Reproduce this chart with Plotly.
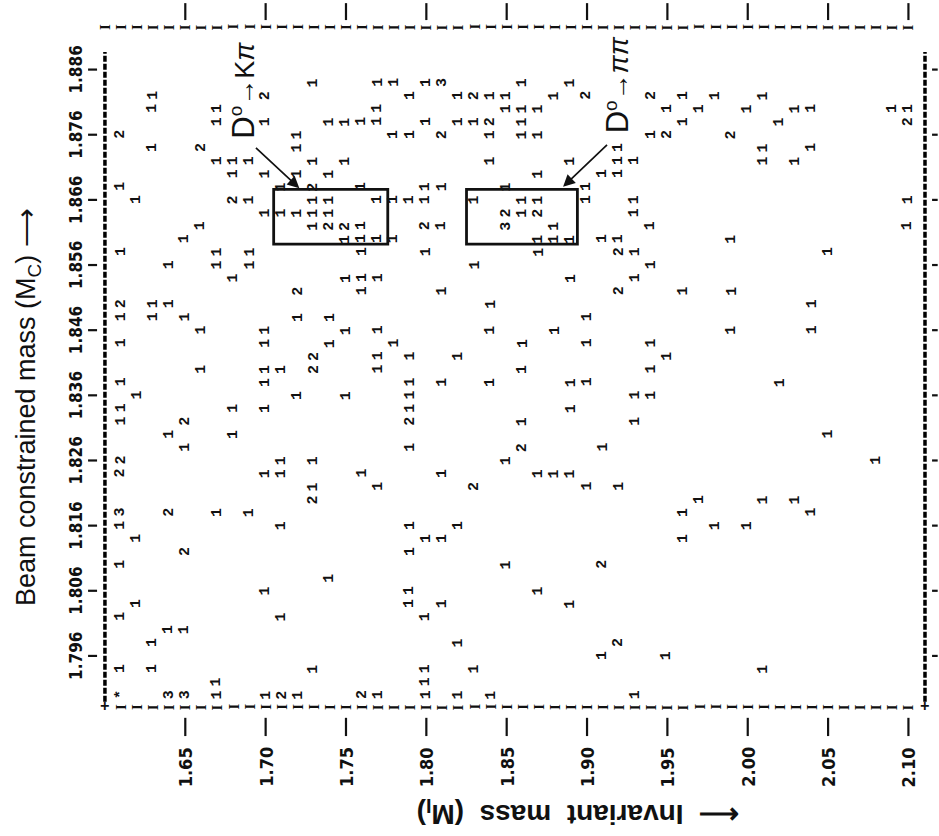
import plotly.graph_objects as go

# ---------------- data ----------------
# invariant-mass bins (GeV), one per printed column
m_inv_bins = [1.61, 1.62, 1.63, 1.64, 1.65, 1.66, 1.67, 1.68, 1.69, 1.70,
              1.71, 1.72, 1.73, 1.74, 1.75, 1.76, 1.77, 1.78, 1.79, 1.80,
              1.81, 1.82, 1.83, 1.84, 1.85, 1.86, 1.87, 1.88, 1.89, 1.90,
              1.91, 1.92, 1.93, 1.94, 1.95, 1.96, 1.97, 1.98, 1.99, 2.00,
              2.01, 2.02, 2.03, 2.04, 2.05, 2.06, 2.07, 2.08, 2.09, 2.10]

# beam-constrained-mass bins (GeV), top row first
m_bc_bins = [1.884, 1.882, 1.880, 1.878, 1.876, 1.874, 1.872, 1.870,
             1.868, 1.866, 1.864, 1.862, 1.860, 1.858, 1.856, 1.854,
             1.852, 1.850, 1.848, 1.846, 1.844, 1.842, 1.840, 1.838,
             1.836, 1.834, 1.832, 1.830, 1.828, 1.826, 1.824, 1.822,
             1.820, 1.818, 1.816, 1.814, 1.812, 1.810, 1.808, 1.806,
             1.804, 1.802, 1.800, 1.798, 1.796, 1.794, 1.792, 1.790]

# printed event counts: one string per M_C row, one character per M_I bin
# ('.' = empty bin, '*' = overflow), written in groups of ten columns
count_rows = [
    ".......... ..1...11.1 3....1..1. .......... ..........",
    "..1......2 ........1. .1211..1.2 ...2.1.1.. 1.........",
    "..1...1... ......1... ....111... ....1.1..1 ..11....11",
    "......1..1 ...1111..1 .112.1.... .....1.... .1.......2",
    "2......... .1.....11. 2..1.11... ...12...2. ..........",
    "..1..2.... .1........ .......... .1........ 1..1......",
    "......111. ..1.1..... ...1....1. .11....... 1.1.......",
    ".......1.1 .1.1...... ......1... 11........ ..........",
    "1......... 1.2..1...1 1...1....1 .......... ..........",
    ".1.....21. ..11..1111 ..1..11..1 ..1....... .........1",
    ".........1 1111...... ....212... ..1....... ..........",
    ".....1.... ..1221...2 1...3..1.. ...1...... .........1",
    "....1..... ....1111.. ......111. 11......1. ..........",
    "1.....1.1. .....1...1 ......1... .21....... ....1.....",
    "...1..1.1. .......... ..1....... ...1...... ..........",
    ".......1.. ....111... ........1. ..1....... ..........",
    ".......... .2...1.... 1......... .2...1..1. ..........",
    "2.11...... .......... ...1...... .......... ...1......",
    "1.1.1..... .1.1...... .........1 .......... ..........",
    ".....1...1 ....1.1... ...1...1.. ........1. ...1......",
    "1........1 ...1...1.. .....1...1 ...1...... ..........",
    ".......... ..2...1.1. .1........ ....1..... ..........",
    ".....1...1 1.2...1... .....1.... ...1...... ..........",
    "1........1 ........1. 1..1....11 .......... .1........",
    ".1........ .1..1...1. .......... ..11...... ..........",
    "1......1.1 ........1. ........1. .......... ..........",
    "1...2..... ........2. .....1.... ..1....... ..........",
    "...1...1.. .......... .......... .......... ....1.....",
    "....1..... ........1. .....2.... 1......... ..........",
    "2......... 1.1....... ....1..... .......... .......1..",
    "2........1 1....1.... 1.....111. .......... ..........",
    ".......... ..1...1... ..2......1 .1........ ..........",
    ".......... ..2....... .......... ......1... 1.1.......",
    "3..2..1.1. .......... .......... .....1.... ...1......",
    "1......... 1.......1. .1........ .......1.1 ..........",
    ".1........ .........1 1......... .....1.... ..........",
    "....2..... ........1. .......... .......... ..........",
    "1......... .......... ....1..... 2......... ..........",
    ".......... ...1...... .......... .......... ..........",
    ".........1 ........1. ......1... .......... ..........",
    ".1........ ........1. 1.......1. .......... ..........",
    "1......... 1........1 .......... .......... ..........",
    "...11..... .......... .......... .......... ..........",
    "..1....... .......... .1........ .2........ ..........",
    ".......... .......... .......... 1...1..... ..........",
    "1.1....... ..1......1 ..1....... .......... 1.........",
    "......1... .........1 .......... .......... ..........",
    "*..33.1..1 21...21..1 .1.1...... ..1....... ..........",
]

# axis tick labels
m_bc_ticks = [1.796, 1.806, 1.816, 1.826, 1.836, 1.846, 1.856, 1.866, 1.876, 1.886]
m_bc_tick_text = ["1.796", "1.806", "1.816", "1.826", "1.836",
                  "1.846", "1.856", "1.866", "1.876", "1.886"]
m_inv_ticks = [1.65, 1.70, 1.75, 1.80, 1.85, 1.90, 1.95, 2.00, 2.05, 2.10]
m_inv_tick_text = ["1.65", "1.70", "1.75", "1.80", "1.85",
                   "1.90", "1.95", "2.00", "2.05", "2.10"]

# signal windows (M_I low, M_I high, M_C low, M_C high)
kpi_window = [1.705, 1.776, 1.8592, 1.8676]
pipi_window = [1.825, 1.894, 1.8592, 1.8676]

# ---------------- layout geometry (data units) ----------------
X_RANGE = [1.53470, 2.11902]
Y_RANGE = [1.76836, 1.89668]
FRAME_L, FRAME_R = 1.6000, 2.1103
FRAME_B, FRAME_T = 1.78816, 1.89253
SIDE_TOP = 1.8887

INK = "#111111"
digit_font = dict(family="Liberation Mono, DejaVu Sans Mono, monospace",
                  size=15, color=INK, weight="bold")
mark_font = dict(family="Liberation Serif, DejaVu Serif, serif",
                 size=15, color=INK, weight="bold")
label_font = dict(family="Liberation Sans Narrow, DejaVu Sans Condensed, Liberation Sans, sans-serif",
                  size=17, color=INK, weight="bold")

annotations = []
shapes = []

# counts, one rotated numeral per occupied bin
for mc, row in zip(m_bc_bins, count_rows):
    cells = row.replace(" ", "")
    for mi, ch in zip(m_inv_bins, cells):
        if ch != ".":
            annotations.append(dict(x=mi, y=mc, xref="x", yref="y", text=ch,
                                    textangle=-90, showarrow=False,
                                    font=digit_font))

# printed column markers along the top and bottom edges
step = m_inv_bins[1] - m_inv_bins[0]
for mi in [m_inv_bins[0] - step] + m_inv_bins:
    annotations.append(dict(x=mi, y=FRAME_T, xref="x", yref="y", text="I",
                            textangle=-90, showarrow=False, font=mark_font))
for mi in m_inv_bins:
    annotations.append(dict(x=mi, y=FRAME_B, xref="x", yref="y", text="I",
                            textangle=-90, showarrow=False, font=mark_font))
for xc in (FRAME_L, FRAME_R):
    annotations.append(dict(x=xc, y=FRAME_B, xref="x", yref="y", text="+",
                            showarrow=False,
                            font=dict(family="Liberation Mono", size=16,
                                      color=INK, weight="bold")))

# dashed side borders
for xc in (FRAME_L, FRAME_R):
    shapes.append(dict(type="line", xref="x", yref="y", x0=xc, x1=xc,
                       y0=FRAME_B + 0.0008, y1=SIDE_TOP,
                       line=dict(color="#000000", width=3.5, dash="6px,2px")))

# major ticks: M_C on the left (with labels) and mirrored on the right
for v, t in zip(m_bc_ticks, m_bc_tick_text):
    shapes.append(dict(type="line", xref="x", yref="y", x0=1.5895, x1=1.5951,
                       y0=v, y1=v, line=dict(color=INK, width=2.2)))
    shapes.append(dict(type="line", xref="x", yref="y", x0=2.1147, x1=2.1182,
                       y0=v, y1=v, line=dict(color=INK, width=2.2)))
    annotations.append(dict(x=1.5820, y=v, xref="x", yref="y", text=t,
                            textangle=-90, showarrow=False, font=label_font))

# major ticks: M_I along the top and the bottom (with labels)
for v, t in zip(m_inv_ticks, m_inv_tick_text):
    shapes.append(dict(type="line", xref="x", yref="y", x0=v, x1=v,
                       y0=1.8936, y1=1.8962, line=dict(color=INK, width=2.2)))
    shapes.append(dict(type="line", xref="x", yref="y", x0=v, x1=v,
                       y0=1.7837, y1=1.7865, line=dict(color=INK, width=2.2)))
    annotations.append(dict(x=v, y=1.77895, xref="x", yref="y", text=t,
                            textangle=-90, showarrow=False,
                            font=dict(label_font, size=18)))

# signal windows
for x0, x1, y0, y1 in (kpi_window, pipi_window):
    shapes.append(dict(type="rect", xref="x", yref="y", x0=x0, x1=x1,
                       y0=y0, y1=y1, line=dict(color=INK, width=2.8)))

# decay-mode labels with arrows pointing at the windows
title_family = "Liberation Sans, Arial, sans-serif"
annotations.append(dict(x=1.6859, y=1.8829, xref="x", yref="y",
                        text="<span style='font-size:31px'>D</span><sup>o</sup>→K<i>π</i>",
                        textangle=-90, showarrow=False,
                        font=dict(family=title_family, size=27, color=INK)))
annotations.append(dict(x=1.9187, y=1.8836, xref="x", yref="y",
                        text="<span style='font-size:31px'>D</span><sup>o</sup>→<i>ππ</i>",
                        textangle=-90, showarrow=False,
                        font=dict(family=title_family, size=27, color=INK)))
annotations.append(dict(x=1.7210, y=1.8678, ax=1.6921, ay=1.8744,
                        xref="x", yref="y", axref="x", ayref="y", text=" ",
                        showarrow=True, arrowhead=2, arrowsize=1.4,
                        arrowwidth=1.7, arrowcolor=INK))
annotations.append(dict(x=1.8851, y=1.8680, ax=1.9143, ay=1.8749,
                        xref="x", yref="y", axref="x", ayref="y", text=" ",
                        showarrow=True, arrowhead=2, arrowsize=1.4,
                        arrowwidth=1.7, arrowcolor=INK))

# axis titles
annotations.append(dict(x=1.5521, y=1.8342, xref="x", yref="y",
                        text="Beam constrained mass (M<sub>C</sub>) ⟶",
                        textangle=-90, showarrow=False,
                        font=dict(family=title_family, size=27, color=INK)))
annotations.append(dict(x=1.8944, y=1.7720, xref="x", yref="y",
                        text="⟵  Invariant  mass  (M<sub>I</sub>)",
                        textangle=180, showarrow=False,
                        font=dict(family=title_family, size=28, color=INK,
                                  weight="bold")))

fig = go.Figure()
fig.update_layout(
    width=939, height=836,
    margin=dict(l=0, r=0, t=0, b=0),
    paper_bgcolor="white", plot_bgcolor="white",
    xaxis=dict(range=X_RANGE, visible=False, fixedrange=True),
    yaxis=dict(range=Y_RANGE, visible=False, fixedrange=True),
    showlegend=False,
    annotations=annotations,
    shapes=shapes,
)
fig.write_html("out.html")
